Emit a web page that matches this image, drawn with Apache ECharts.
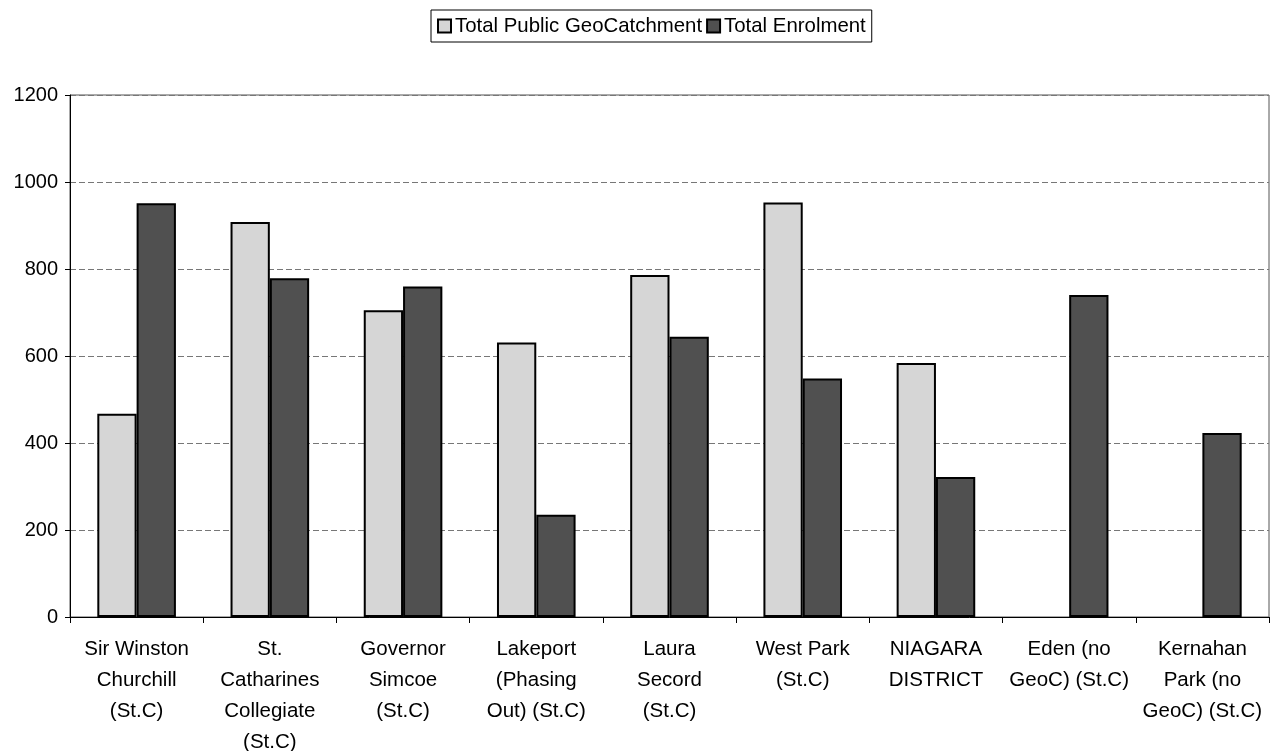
<!DOCTYPE html>
<html>
<head>
<meta charset="utf-8">
<script src="https://cdn.jsdelivr.net/npm/echarts@6/dist/echarts.min.js"></script>
<style>
html,body{margin:0;padding:0;background:#fff;}
#main{width:1277px;height:751px;}
</style>
</head>
<body>
<div id="main"></div>
<script>
const categories = [
  "Sir Winston\nChurchill\n(St.C)",
  "St.\nCatharines\nCollegiate\n(St.C)",
  "Governor\nSimcoe\n(St.C)",
  "Lakeport\n(Phasing\nOut) (St.C)",
  "Laura\nSecord\n(St.C)",
  "West Park\n(St.C)",
  "NIAGARA\nDISTRICT",
  "Eden (no\nGeoC) (St.C)",
  "Kernahan\nPark (no\nGeoC) (St.C)"
];
const geoCatchment = [467, 908, 705, 631, 786, 953, 584, null, null];
const enrolment = [951, 779, 760, 235, 644, 548, 322, 740, 423];
const seriesNames = ["Total Public GeoCatchment", "Total Enrolment"];

const font = "'Liberation Sans', Arial, sans-serif";
const chart = echarts.init(document.getElementById('main'), null, {renderer: 'canvas'});
chart.setOption({
  animation: false,
  backgroundColor: '#ffffff',
  legend: {
    top: 10,
    left: 431,
    data: seriesNames,
    icon: 'rect',
    itemWidth: 13,
    itemHeight: 13,
    itemGap: 4,
    padding: [6, 6, 6, 6],
    borderColor: '#000',
    borderWidth: 1,
    textStyle: {fontFamily: font, fontSize: 20.4, color: '#000', padding: [0, 0, 0, -1]}
  },
  grid: {
    left: 70, right: 8, top: 95, bottom: 134,
    outerBoundsMode: 'none',
    show: true, borderColor: '#555', borderWidth: 1
  },
  xAxis: {
    type: 'category',
    data: categories,
    axisLine: {lineStyle: {color: '#000', width: 1}},
    axisTick: {show: true, length: 6, alignWithLabel: false, lineStyle: {color: '#000'}},
    axisLabel: {fontFamily: font, fontSize: 20.5, color: '#000', lineHeight: 31, margin: 17, interval: 0}
  },
  yAxis: {
    type: 'value',
    min: 0, max: 1200, interval: 200,
    axisLine: {show: true, lineStyle: {color: '#000', width: 1}},
    axisTick: {show: true, length: 5, lineStyle: {color: '#000'}},
    axisLabel: {fontFamily: font, fontSize: 20, color: '#000', margin: 12, formatter: function (v) { return String(v); }},
    splitLine: {show: true, lineStyle: {color: '#777', type: [6, 3], width: 1}}
  },
  series: [
    {
      name: seriesNames[0], type: 'bar', data: geoCatchment,
      barGap: '0%', barCategoryGap: '41%',
      itemStyle: {color: '#d6d6d6', borderColor: '#000', borderWidth: 2}
    },
    {
      name: seriesNames[1], type: 'bar', data: enrolment,
      itemStyle: {color: '#505050', borderColor: '#000', borderWidth: 2}
    }
  ]
});
</script>
</body>
</html>
